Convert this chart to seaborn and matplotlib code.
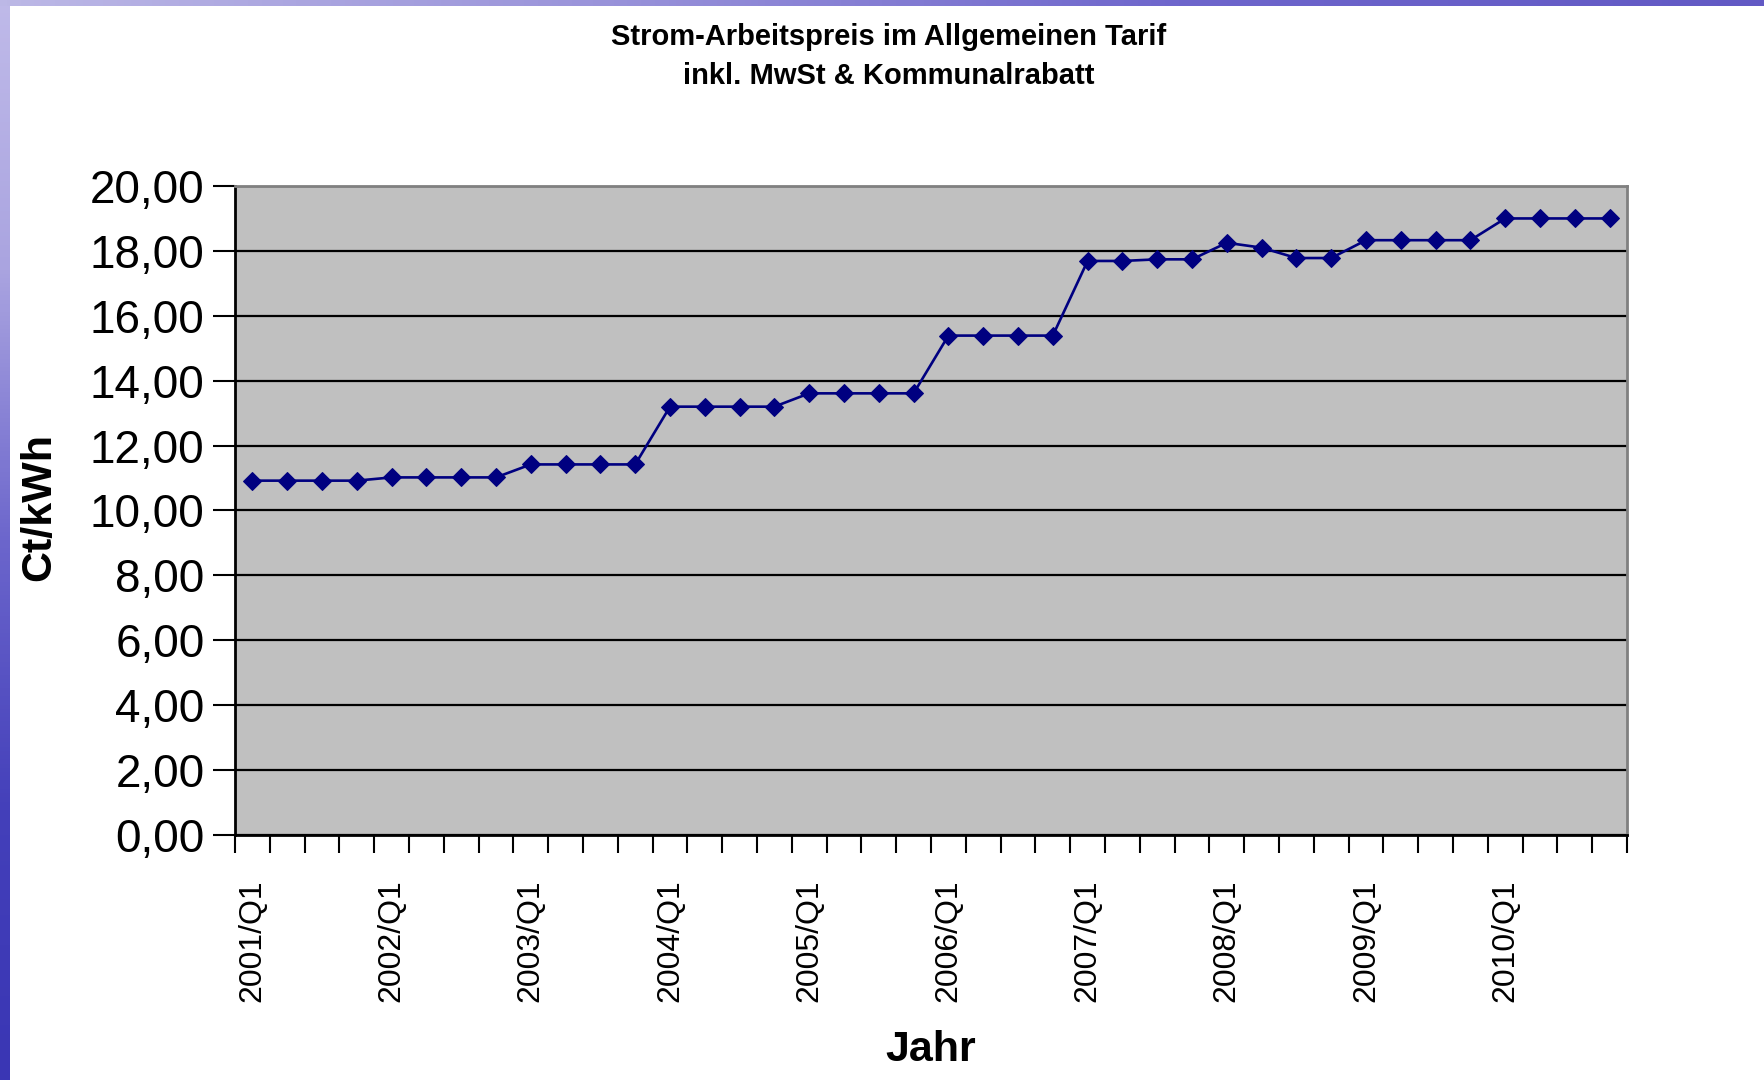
import numpy as np
import pandas as pd
import matplotlib
matplotlib.use("Agg")
import matplotlib.pyplot as plt
import seaborn as sns

# ---- data ----
quarters = [
    "2001/Q1", "2001/Q2", "2001/Q3", "2001/Q4",
    "2002/Q1", "2002/Q2", "2002/Q3", "2002/Q4",
    "2003/Q1", "2003/Q2", "2003/Q3", "2003/Q4",
    "2004/Q1", "2004/Q2", "2004/Q3", "2004/Q4",
    "2005/Q1", "2005/Q2", "2005/Q3", "2005/Q4",
    "2006/Q1", "2006/Q2", "2006/Q3", "2006/Q4",
    "2007/Q1", "2007/Q2", "2007/Q3", "2007/Q4",
    "2008/Q1", "2008/Q2", "2008/Q3", "2008/Q4",
    "2009/Q1", "2009/Q2", "2009/Q3", "2009/Q4",
    "2010/Q1", "2010/Q2", "2010/Q3", "2010/Q4",
]
prices = [
    10.92, 10.92, 10.92, 10.92,
    11.02, 11.02, 11.02, 11.02,
    11.42, 11.42, 11.42, 11.42,
    13.20, 13.20, 13.20, 13.20,
    13.61, 13.61, 13.61, 13.61,
    15.39, 15.39, 15.39, 15.39,
    17.69, 17.69, 17.74, 17.74,
    18.25, 18.10, 17.78, 17.78,
    18.33, 18.33, 18.33, 18.33,
    19.00, 19.00, 19.00, 19.00,
]
tick_labels = ["2001/Q1", "2002/Q1", "2003/Q1", "2004/Q1", "2005/Q1",
               "2006/Q1", "2007/Q1", "2008/Q1", "2009/Q1", "2010/Q1"]
y_ticks = [0, 2, 4, 6, 8, 10, 12, 14, 16, 18, 20]

title_lines = "Strom-Arbeitspreis im Allgemeinen Tarif\ninkl. MwSt & Kommunalrabatt"
x_title = "Jahr"
y_title = "Ct/kWh"

df = pd.DataFrame({"Quartal": quarters, "Preis": prices})

sns.set_theme(style="white")
plt.rcParams["font.family"] = ["Liberation Sans", "DejaVu Sans"]
plt.rcParams["text.color"] = "black"
plt.rcParams["xtick.color"] = "black"
plt.rcParams["ytick.color"] = "black"
plt.rcParams["axes.labelcolor"] = "black"

W, H = 1765, 1080
fig = plt.figure(figsize=(W / 100, H / 100), dpi=100)
fig.patch.set_facecolor("white")

# slide decoration strips
left_strip = fig.add_axes([0, 0, 10 / W, 1])
grad_v = np.linspace(0, 1, 256).reshape(-1, 1)
cmap_v = matplotlib.colors.LinearSegmentedColormap.from_list(
    "lv", ["#bfbae9", "#aaa4e0", "#6c66cc", "#4440ba", "#3a36b4"])
left_strip.imshow(grad_v, aspect="auto", cmap=cmap_v, extent=[0, 1, 1, 0])
left_strip.axis("off")

top_strip = fig.add_axes([0, 1 - 6 / H, 1, 6 / H])
grad_h = np.linspace(0, 1, 256).reshape(1, -1)
cmap_h = matplotlib.colors.LinearSegmentedColormap.from_list(
    "th", ["#bcb8e6", "#9a94da", "#6e66cc", "#6259c4"])
top_strip.imshow(grad_h, aspect="auto", cmap=cmap_h)
top_strip.axis("off")

# main axes
L, R, T, B = 235, 1627, 186, 835
ax = fig.add_axes([L / W, 1 - B / H, (R - L) / W, (B - T) / H])
ax.set_facecolor("#C0C0C0")

sns.lineplot(data=df, x="Quartal", y="Preis", ax=ax, sort=False,
             color="#000080", linewidth=1.9, marker="D", markersize=9,
             markeredgecolor="#000080", markerfacecolor="#000080")

n = len(quarters)
ax.set_xlim(-0.5, n - 0.5)
ax.set_ylim(0, 20)

# y axis
ax.set_yticks(y_ticks)
ax.set_yticklabels([f"{v:.2f}".replace(".", ",") for v in y_ticks], fontsize=33)
ax.tick_params(axis="y", direction="out", length=16, width=1.5, color="black",
               labelcolor="black", pad=6, left=True)
ax.yaxis.grid(True, color="black", linewidth=1.6)
ax.xaxis.grid(False)
ax.set_axisbelow(True)

# x axis: labels every 4 quarters, tick marks between categories
label_pos = [quarters.index(t) for t in tick_labels]
ax.set_xticks(label_pos)
ax.set_xticklabels(tick_labels, rotation=90, fontsize=23)
ax.set_xticks(np.arange(-0.5, n, 1.0), minor=True)
ax.tick_params(axis="x", which="major", length=0, pad=32, bottom=True,
               labelcolor="black")
ax.tick_params(axis="x", which="minor", direction="out", length=13, width=1.5,
               color="black", bottom=True)

for s in ["left", "bottom"]:
    ax.spines[s].set_color("black")
    ax.spines[s].set_linewidth(2)
for s in ["top", "right"]:
    ax.spines[s].set_color("#808080")
    ax.spines[s].set_linewidth(2)
    ax.spines[s].set_visible(True)

ax.set_xlabel(x_title, fontsize=31, fontweight="bold", color="black")
ax.set_ylabel(y_title, fontsize=31, fontweight="bold", color="black")
ax.xaxis.set_label_coords(0.5, -0.30)
ax.yaxis.set_label_coords(-0.126, 0.505)

fig.text(889 / W, 1 - 23 / H, title_lines, ha="center", va="top",
         fontsize=21, fontweight="bold", linespacing=1.5, color="black")

fig.savefig("out.png", dpi=100, facecolor="white")
